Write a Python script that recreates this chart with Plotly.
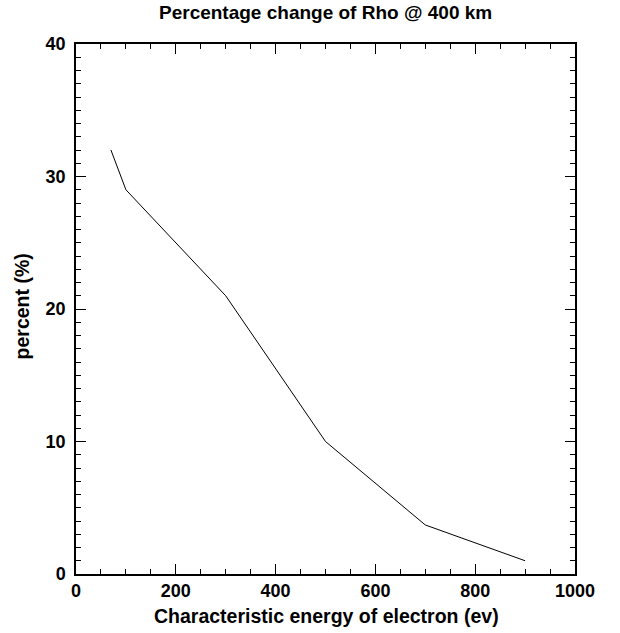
import plotly.graph_objects as go

energy = [70, 100, 300, 500, 700, 900]
percent = [32, 29, 21, 10, 3.7, 1]

x_ticks = [0, 200, 400, 600, 800, 1000]
y_ticks = [0, 10, 20, 30, 40]

title_text = "Percentage change of Rho @ 400 km"
x_title = "Characteristic energy of electron (ev)"
y_title = "percent (%)"

FONT = "Liberation Sans, Arial, Helvetica, sans-serif"

fig = go.Figure()
fig.add_trace(go.Scatter(x=energy, y=percent, mode="lines",
                         line=dict(color="black", width=1), showlegend=False))

axis_common = dict(
    showgrid=False, zeroline=False, showline=True, linecolor="black", linewidth=1.5,
    mirror="ticks", ticks="inside", ticklen=10, tickwidth=1, tickcolor="black",
    automargin=False,
    tickfont=dict(family=FONT, size=18, color="black", weight="bold"),
)

fig.update_xaxes(range=[0, 1000], tickvals=x_ticks, ticktext=[str(v) for v in x_ticks],
                 ticklabelstandoff=0,
                 minor=dict(dtick=50, ticklen=5, ticks="inside", tickcolor="black", tickwidth=1),
                 **axis_common)
fig.update_yaxes(range=[0, 40], tickvals=y_ticks, ticktext=[str(v) for v in y_ticks],
                 ticklabelstandoff=5,
                 minor=dict(dtick=1, ticklen=5, ticks="inside", tickcolor="black", tickwidth=1),
                 **axis_common)

fig.add_annotation(text=title_text, xref="paper", yref="paper", x=0.5, y=1.06,
                   xanchor="center", yanchor="middle", showarrow=False,
                   font=dict(family=FONT, size=19, color="black", weight="bold"))
fig.add_annotation(text=x_title, xref="paper", yref="paper", x=0.502, y=-0.08,
                   xanchor="center", yanchor="middle", showarrow=False,
                   font=dict(family=FONT, size=19.5, color="black", weight="bold"))
fig.add_annotation(text=y_title, xref="paper", yref="paper", x=-0.108, y=0.505,
                   xanchor="center", yanchor="middle", showarrow=False, textangle=-90,
                   font=dict(family=FONT, size=19.5, color="black", weight="bold"))

fig.update_layout(
    width=620, height=633,
    margin=dict(l=76, r=45, t=44, b=59),
    paper_bgcolor="white", plot_bgcolor="white",
)

fig.write_html("out.html")
